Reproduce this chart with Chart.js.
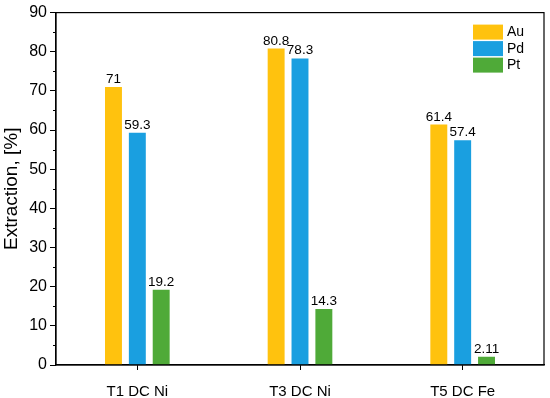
<!DOCTYPE html>
<html>
<head>
<meta charset="utf-8">
<script src="https://cdn.jsdelivr.net/npm/chart.js@4"></script>
<style>
  html, body { margin: 0; padding: 0; background: #fff; }
  #wrap { width: 550px; height: 398px; }
</style>
</head>
<body>
<div id="wrap"><canvas id="grafico"></canvas></div>
<script>
var categorias = ["T1 DC Ni", "T3 DC Ni", "T5 DC Fe"];
var au = [71, 80.8, 61.4];
var pd = [59.3, 78.3, 57.4];
var pt = [19.2, 14.3, 2.11];
var rotulosAu = ["71", "80.8", "61.4"];
var rotulosPd = ["59.3", "78.3", "57.4"];
var rotulosPt = ["19.2", "14.3", "2.11"];
var yTicks = [0, 10, 20, 30, 40, 50, 60, 70, 80, 90];

var fonte = "'Liberation Sans', Arial, sans-serif";

// moldura, ticks menores, rotulos e legenda
var extras = {
    id: 'extras',
    afterDraw: function (chart) {
        var ctx = chart.ctx;
        var a = chart.chartArea;
        var y = chart.scales.y;
        ctx.save();
        ctx.strokeStyle = '#000';
        ctx.lineWidth = 1.2;
        ctx.strokeRect(a.left, a.top, a.right - a.left, a.bottom - a.top);

        // minor ticks
        ctx.lineWidth = 1;
        for (var v = 5; v < 90; v += 10) {
            var py = Math.round(y.getPixelForValue(v)) + 0.5;
            ctx.beginPath();
            ctx.moveTo(a.left, py);
            ctx.lineTo(a.left - 3, py);
            ctx.stroke();
        }

        // valores acima das barras
        ctx.fillStyle = '#000';
        ctx.font = '13.5px ' + fonte;
        ctx.textAlign = 'center';
        ctx.textBaseline = 'bottom';
        chart.data.datasets.forEach(function (ds, i) {
            var meta = chart.getDatasetMeta(i);
            meta.data.forEach(function (bar, j) {
                ctx.fillText(ds.rotulos[j], bar.x, bar.y - 1);
            });
        });

        // legenda
        var lx = a.right - 71, ly = a.top + 12;
        ctx.font = '14px ' + fonte;
        ctx.textAlign = 'left';
        ctx.textBaseline = 'middle';
        chart.data.datasets.forEach(function (ds, i) {
            ctx.fillStyle = ds.backgroundColor;
            ctx.fillRect(lx, ly + i * 16.5, 30, 15);
            ctx.fillStyle = '#000';
            ctx.fillText(ds.label, lx + 34, ly + i * 16.5 + 8);
        });
        ctx.restore();
    }
};

var grafico = new Chart(document.getElementById("grafico"), {
    type: 'bar',
    data: {
        labels: categorias,
        datasets: [
            { label: "Au", data: au, rotulos: rotulosAu, backgroundColor: "#FFC20E" },
            { label: "Pd", data: pd, rotulos: rotulosPd, backgroundColor: "#1A9FE0" },
            { label: "Pt", data: pt, rotulos: rotulosPt, backgroundColor: "#4FAA38" }
        ]
    },
    options: {
        responsive: true,
        maintainAspectRatio: false,
        animation: false,
        layout: { padding: { top: 10, right: 6, left: 0, bottom: 0 } },
        datasets: { bar: { categoryPercentage: 0.44, barPercentage: 0.71 } },
        plugins: { legend: { display: false }, tooltip: { enabled: false } },
        scales: {
            x: {
                grid: { offset: false, drawOnChartArea: false, color: '#000', tickLength: 5, lineWidth: 1 },
                border: { color: '#000', width: 1.2 },
                ticks: { color: '#000', font: { family: fonte, size: 15 }, padding: 13 },
                afterFit: function (s) { s.height = 33; }
            },
            y: {
                min: 0,
                max: 90,
                afterBuildTicks: function (s) { s.ticks = yTicks.map(function (v) { return { value: v }; }); },
                grid: { drawOnChartArea: false, color: '#000', tickLength: 6, lineWidth: 1 },
                border: { color: '#000', width: 1.2 },
                ticks: { color: '#000', font: { family: fonte, size: 16 }, padding: 3 },
                title: { display: true, text: "Extraction, [%]", color: '#000', font: { family: fonte, size: 19 }, padding: 0 },
                afterFit: function (s) { s.width = 56; }
            }
        }
    },
    plugins: [extras]
});
</script>
</body>
</html>
